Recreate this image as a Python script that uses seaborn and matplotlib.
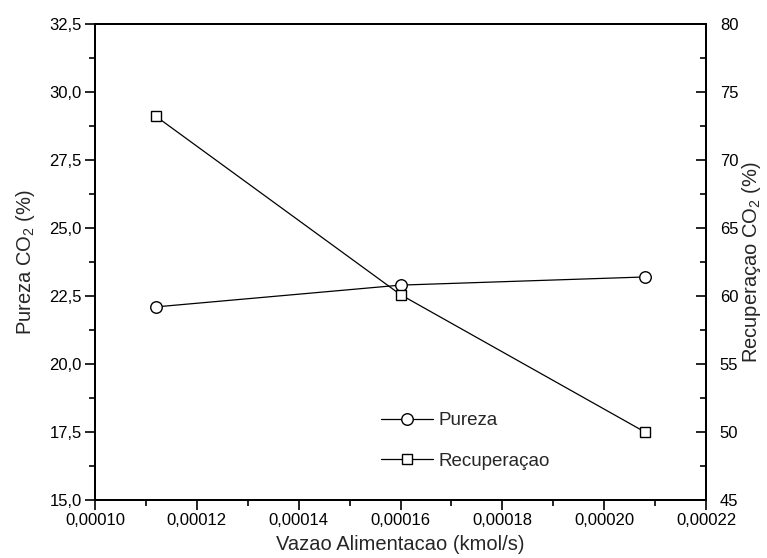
import matplotlib
matplotlib.use("Agg")
import matplotlib.pyplot as plt
import seaborn as sns
import pandas as pd
from matplotlib.ticker import FuncFormatter, MultipleLocator
from matplotlib.lines import Line2D

# Feed flow rate (kmol/s) and the two responses
vazao = [0.000112, 0.000160, 0.000208]
pureza = [22.1, 22.9, 23.2]
recuperacao = [73.2, 60.1, 50.0]

sns.set_theme(style="white")
plt.rcParams["font.family"] = ["Liberation Sans", "DejaVu Sans"]
plt.rcParams["mathtext.fontset"] = "custom"
plt.rcParams["mathtext.rm"] = "Liberation Sans"
plt.rcParams["mathtext.it"] = "Liberation Sans:italic"

df = pd.DataFrame({"vazao": vazao, "pureza": pureza, "recuperacao": recuperacao})

fig = plt.figure(figsize=(7.67, 5.58), dpi=100)
W, H = 767, 558
left, right, top, bottom = 95, 706, 24, 500
ax = fig.add_axes([left / W, 1 - bottom / H, (right - left) / W, (bottom - top) / H])
ax2 = ax.twinx()

circ = dict(marker="o", markersize=8.3, markerfacecolor="white",
            markeredgecolor="black", markeredgewidth=1.0)
sq = dict(marker="s", markersize=7.0, markerfacecolor="white",
          markeredgecolor="black", markeredgewidth=1.0)

sns.lineplot(data=df, x="vazao", y="pureza", ax=ax, color="black", lw=0.9, **circ)
sns.lineplot(data=df, x="vazao", y="recuperacao", ax=ax2, color="black", lw=0.9, **sq)

ax.set_xlim(0.00010, 0.00022)
ax.set_ylim(15.0, 32.5)
ax2.set_ylim(45, 80)

ax.xaxis.set_major_locator(MultipleLocator(0.00002))
ax.xaxis.set_minor_locator(MultipleLocator(0.00001))
ax.yaxis.set_major_locator(MultipleLocator(2.5))
ax.yaxis.set_minor_locator(MultipleLocator(1.25))
ax2.yaxis.set_major_locator(MultipleLocator(5))
ax2.yaxis.set_minor_locator(MultipleLocator(2.5))

ax.xaxis.set_major_formatter(FuncFormatter(lambda v, p: f"{v:.5f}".replace(".", ",")))
ax.yaxis.set_major_formatter(FuncFormatter(lambda v, p: f"{v:.1f}".replace(".", ",")))
ax2.yaxis.set_major_formatter(FuncFormatter(lambda v, p: f"{v:.0f}"))

for a in (ax, ax2):
    for s in a.spines.values():
        s.set_visible(True)
        s.set_color("black")
        s.set_linewidth(1.4)

ax.tick_params(axis="both", which="major", direction="out", length=7, width=1.2,
               labelsize=12, colors="black", pad=2.5)
ax.tick_params(axis="both", which="minor", direction="out", length=4, width=1.2, colors="black")
ax.tick_params(axis="x", which="both", top=False, bottom=True)
ax.tick_params(axis="y", which="both", left=True, right=False)
ax2.tick_params(axis="y", which="major", direction="in", length=7, width=1.2,
                labelsize=12, colors="black", pad=10)
ax2.tick_params(axis="y", which="minor", direction="in", length=4, width=1.2, colors="black")

ax.set_xlabel("Vazao Alimentacao (kmol/s)", fontsize=14.5, labelpad=5)
ax.set_ylabel("Pureza CO$_2$ (%)", fontsize=14.5, labelpad=9)
ax2.set_ylabel("Recuperaçao CO$_2$ (%)", fontsize=14.5, labelpad=1)

handles = [
    Line2D([], [], color="black", lw=0.9, **circ),
    Line2D([], [], color="black", lw=0.9, **sq),
]
ax2.legend(handles, ["Pureza", "Recuperaçao"], loc="upper left",
           bbox_to_anchor=(0.44, 0.22), frameon=False, fontsize=13.5,
           handlelength=2.8, labelspacing=1.25, handletextpad=0.3)

fig.savefig("out.png", dpi=100)
